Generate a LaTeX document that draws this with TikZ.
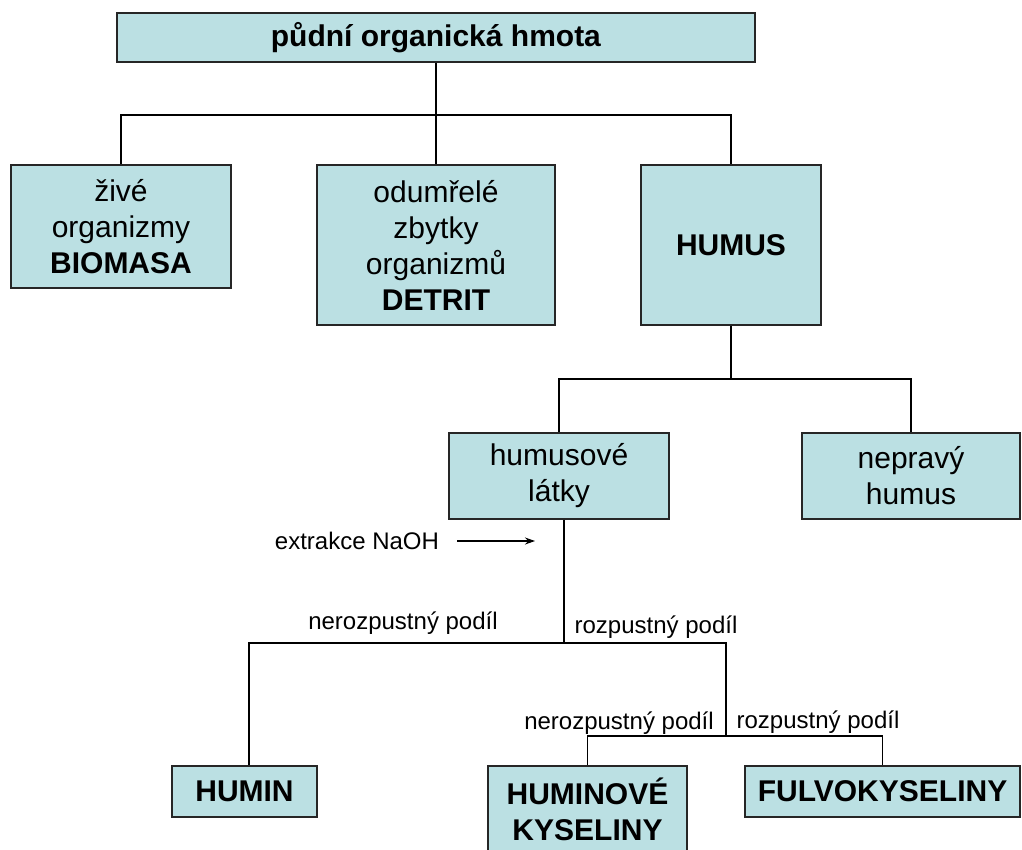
\documentclass[tikz,border=0pt]{standalone}
\usepackage{fontspec}
\setmainfont{Liberation Sans}
\usetikzlibrary{arrows.meta}
\definecolor{boxfill}{RGB}{187,224,227}
\newcommand\boxtextstyle{\fontsize{15}{18}\selectfont}
\newcommand\sharetextstyle{\fontsize{12}{14}\selectfont}
\tikzset{
  soilbox/.style={draw=black!85, line width=.6pt, fill=boxfill, align=center,
    inner sep=0pt, font=\boxtextstyle},
  branch/.style={line width=.55pt},
  share/.style={inner sep=0pt, font=\sharetextstyle},
}

\begin{document}
\begin{tikzpicture}[x=.5pt, y=-.5pt]
  \useasboundingbox (0,0) rectangle (1022,850);
  % boxes
  \node[soilbox, minimum width=319pt, minimum height=24.5pt] (soil) at (436,37.5)
    {\textbf{půdní organická hmota}};
  \node[soilbox, minimum width=110pt, minimum height=61.5pt] (live) at (121,226.5)
    {živé\\organizmy\\\textbf{BIOMASA}};
  \node[soilbox, minimum width=119pt, minimum height=80pt] (dead) at (436,245)
    {odumřelé\\zbytky\\organizmů\\\textbf{DETRIT}};
  \node[soilbox, minimum width=90pt, minimum height=80pt] (humus) at (731,245)
    {\textbf{HUMUS}};
  \node[soilbox, minimum width=110pt, minimum height=43pt] (subst) at (559,476)
    {humusové\\látky};
  \node[soilbox, minimum width=109pt, minimum height=43pt] (false) at (911,476)
    {nepravý\\humus};
  \node[soilbox, minimum width=72.5pt, minimum height=25.5pt] (humin) at (244.5,791.5)
    {\textbf{HUMIN}};
  \node[soilbox, minimum width=99.5pt, minimum height=43.5pt] (humac) at (587.5,809.5)
    {\textbf{HUMINOVÉ}\\\textbf{KYSELINY}};
  \node[soilbox, minimum width=137.5pt, minimum height=25.5pt] (fulvo) at (882.5,791.5)
    {\textbf{FULVOKYSELINY}};
  % labels
  \node[share] (naoh) at (357,541) {extrakce NaOH};
  \coordinate (naohend) at (535,541);
  \node[share] (insol) at (403,623) {nerozpustný podíl};
  \node[share] (sol) at (656,627) {rozpustný podíl};
  \node[share] (insolb) at (619,723) {nerozpustný podíl};
  \node[share] (solb) at (818,722) {rozpustný podíl};
  % junctions
  \coordinate (bar1) at (436,115);
  \coordinate (bar2) at (731,379);
  \coordinate (bar3) at (564,643);
  \coordinate (bar4) at (726,736);
  % connectors
  \draw[branch] (soil.south) -- (dead.north);
  \draw[branch] (live.north) |- (bar1) -| (humus.north);
  \draw[branch] (humus.south) -- (bar2);
  \draw[branch] (subst.north) |- (bar2) -| (false.north);
  \draw[branch] (subst.south -| bar3) -- (bar3);
  \draw[branch] ([xshift=2.25pt]humin.north) |- (bar3) -| (bar4);
  \draw[branch] (humac.north) |- (bar4) -| (fulvo.north);
  \draw[branch, -{Stealth[length=5pt, width=3.5pt]}] ([xshift=9pt]naoh.east) -- (naohend);
\end{tikzpicture}
\end{document}
